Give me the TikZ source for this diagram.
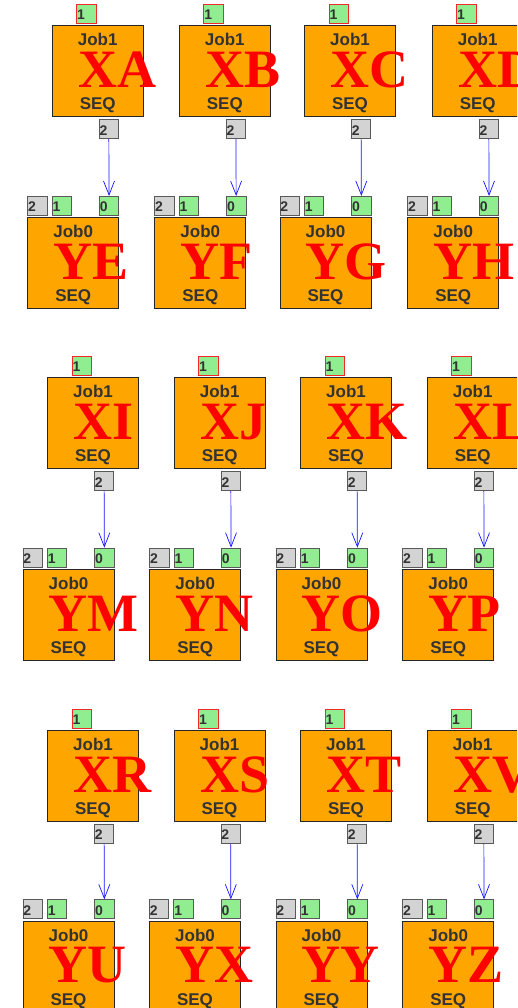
\documentclass[tikz,border=0pt]{standalone}
\usepackage{fontspec}
\setmainfont{Liberation Serif}
\setsansfont{Liberation Sans}
\usepackage{tikz}
\usetikzlibrary{arrows.meta, positioning}
\usepackage{xcolor}
\definecolor{joborange}{RGB}{255,165,0}
\definecolor{portgreen}{RGB}{144,238,144}
\definecolor{portgray}{RGB}{211,211,211}
\definecolor{labeldark}{RGB}{51,51,51}
\definecolor{trigred}{RGB}{240,40,40}
\definecolor{linkblue}{RGB}{20,20,255}
\tikzset{
  jobbox/.style={rectangle, draw=black!85, line width=1pt, fill=joborange, minimum width=91pt, minimum height=91pt, inner sep=0pt, anchor=north west},
  jobname/.style={font=\sffamily\bfseries\fontsize{17}{17}\selectfont, text=labeldark, anchor=base, inner sep=0pt},
  bigtag/.style={font=\rmfamily\bfseries\fontsize{54}{54}\selectfont, text=red, anchor=base west, inner sep=0pt},
  portbox/.style={rectangle, draw=black!65, line width=0.8pt, text width=18.4pt, inner xsep=0.5pt, inner ysep=0pt, text height=13pt, text depth=1pt, minimum height=19pt, align=left, font=\sffamily\bfseries\fontsize{14}{14}\selectfont, text=labeldark},
  inport/.style={portbox, fill=portgreen},
  trigport/.style={portbox, fill=portgreen, draw=trigred},
  outport/.style={portbox, fill=portgray},
  link/.style={-{Straight Barb[length=14pt,width=11pt]}, draw=linkblue, line width=0.7pt}
}
\begin{document}
\begin{tikzpicture}[x=1pt, y=-1pt]
  \useasboundingbox (0,0) rectangle (517,1008);
  \clip (0,0) rectangle (517,1008);
  \foreach \n/\x/\y/\d/\up/\low in {
      a/51.7/25.3/192/XA/YE, b/178.8/25.3/192/XB/YF, c/304/25.3/192/XC/YG, d/431.7/25.3/192/XD/YH,
      e/47/377.3/191.7/XI/YM, f/173.7/377.3/191.7/XJ/YN, g/300/377.3/191.7/XK/YO, h/426.7/377.3/191.7/XL/YP,
      i/47/730/190.7/XR/YU, j/173.5/730/190.7/XS/YX, k/300/730/190.7/XT/YY, l/426.7/730/190.7/XV/YZ}{
    % upper job
    \node[jobbox] (up\n) at (\x,\y) {};
    \node[jobname] (up\n-name) at ([yshift=-20.4pt]up\n.north) {Job1};
    \node[jobname] (up\n-kind) at ([yshift=-84.5pt]up\n.north) {SEQ};
    \node[bigtag] (up\n-tag) at ([xshift=26.5pt,yshift=-62pt]up\n.north west) {\up};
    \node[trigport, anchor=south west] (up\n-p1) at ([xshift=24.6pt,yshift=1.6pt]up\n.north west) {1};
    \node[outport, anchor=north west] (up\n-p2) at ([xshift=47pt,yshift=-2pt]up\n.south west) {2};
    % lower job
    \node[jobbox] (low\n) at (\x-24.5,\y+\d) {};
    \node[jobname] (low\n-name) at ([yshift=-20.4pt]low\n.north) {Job0};
    \node[jobname] (low\n-kind) at ([yshift=-84.5pt]low\n.north) {SEQ};
    \node[bigtag] (low\n-tag) at ([xshift=26pt,yshift=-62pt]low\n.north west) {\low};
    \node[outport, anchor=south west] (low\n-p2) at ([yshift=1.6pt]low\n.north west) {2};
    \node[inport, anchor=south west] (low\n-p1) at ([xshift=24.4pt,yshift=1.6pt]low\n.north west) {1};
    \node[inport, anchor=south east] (low\n-p0) at ([yshift=1.6pt]low\n.north east) {0};
    \draw[link] (up\n-p2) -- (low\n-p0);
  }
\end{tikzpicture}
\end{document}
